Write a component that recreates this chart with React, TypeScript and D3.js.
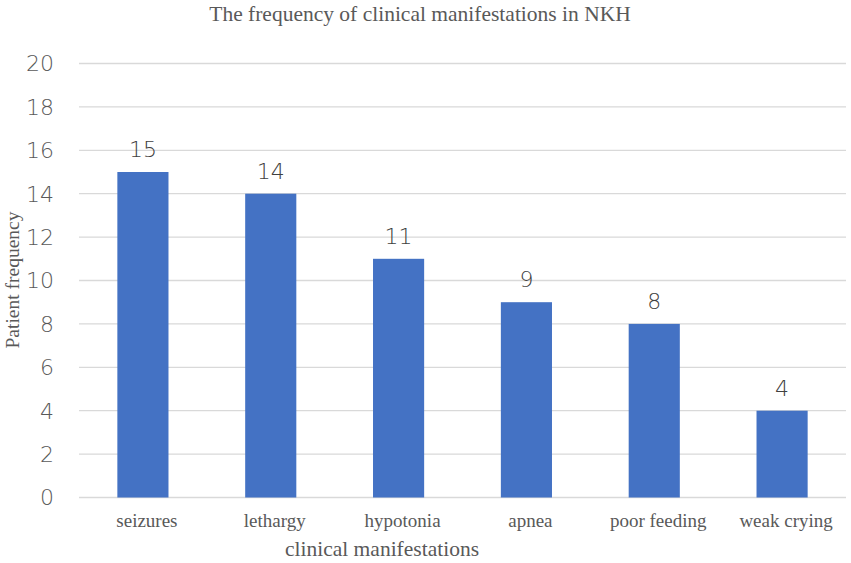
import React, { useEffect, useRef } from "react";
import * as d3 from "d3";

const categories = [
  "seizures",
  "lethargy",
  "hypotonia",
  "apnea",
  "poor feeding",
  "weak crying",
];
const values = [15, 14, 11, 9, 8, 4];
const yTicks = [0, 2, 4, 6, 8, 10, 12, 14, 16, 18, 20];

const chartTitle = "The frequency of clinical manifestations in NKH";
const xTitle = "clinical manifestations";
const yTitle = "Patient frequency";

export default function App() {
  const ref = useRef<SVGSVGElement | null>(null);

  useEffect(() => {
    const width = 851;
    const height = 563;
    const left = 79;
    const right = 846;
    const top = 63.5;
    const bottom = 497.5;
    const serif = "'Liberation Serif', 'Times New Roman', serif";
    const sans = "'DejaVu Sans', 'Noto Sans', sans-serif";

    const svg = d3.select(ref.current);
    svg.selectAll("*").remove();
    svg.attr("width", width).attr("height", height);

    const x = d3.scaleBand<string>().domain(categories).range([left, right]);
    const y = d3.scaleLinear().domain([0, 20]).range([bottom, top]);
    const barW = x.bandwidth() * 0.4;

    // gridlines
    svg
      .append("g")
      .selectAll("line")
      .data(yTicks)
      .join("line")
      .attr("x1", left)
      .attr("x2", right)
      .attr("y1", (d) => y(d))
      .attr("y2", (d) => y(d))
      .attr("stroke", "#d9d9d9")
      .attr("stroke-width", 1.3);

    // y tick labels
    svg
      .append("g")
      .selectAll("text")
      .data(yTicks)
      .join("text")
      .attr("x", 54)
      .attr("y", (d) => y(d))
      .attr("dy", "0.36em")
      .attr("text-anchor", "end")
      .attr("font-family", sans)
      .attr("font-weight", 300)
      .attr("font-size", 22)
      .attr("fill", "#595959")
      .text((d) => d);

    // bars
    svg
      .append("g")
      .selectAll("rect")
      .data(values)
      .join("rect")
      .attr("x", (_d, i) => x(categories[i])! + (x.bandwidth() - barW) / 2)
      .attr("y", (d) => y(d))
      .attr("width", barW)
      .attr("height", (d) => bottom - y(d))
      .attr("fill", "#4472c4");

    // value labels
    svg
      .append("g")
      .selectAll("text")
      .data(values)
      .join("text")
      .attr("x", (_d, i) => x(categories[i])! + x.bandwidth() / 2)
      .attr("y", (d) => y(d) - 15)
      .attr("text-anchor", "middle")
      .attr("font-family", sans)
      .attr("font-weight", 300)
      .attr("font-size", 22)
      .attr("fill", "#404040")
      .text((d) => d);

    // category labels
    svg
      .append("g")
      .selectAll("text")
      .data(categories)
      .join("text")
      .attr("x", (d) => x(d)! + x.bandwidth() / 2 + 4)
      .attr("y", 527)
      .attr("text-anchor", "middle")
      .attr("font-family", serif)
      .attr("font-size", 19)
      .attr("fill", "#595959")
      .text((d) => d);

    svg
      .append("text")
      .attr("x", 382)
      .attr("y", 556)
      .attr("text-anchor", "middle")
      .attr("font-family", serif)
      .attr("font-size", 21.5)
      .attr("fill", "#595959")
      .text(xTitle);

    svg
      .append("text")
      .attr("transform", "translate(19,280) rotate(-90)")
      .attr("text-anchor", "middle")
      .attr("font-family", serif)
      .attr("font-size", 19.5)
      .attr("fill", "#595959")
      .text(yTitle);

    svg
      .append("text")
      .attr("x", 420)
      .attr("y", 21)
      .attr("text-anchor", "middle")
      .attr("font-family", serif)
      .attr("font-size", 21.5)
      .attr("fill", "#595959")
      .text(chartTitle);
  }, []);

  return (
    <svg
      ref={ref}
      style={{ position: "absolute", left: 0, top: 0, background: "#fff" }}
    />
  );
}
